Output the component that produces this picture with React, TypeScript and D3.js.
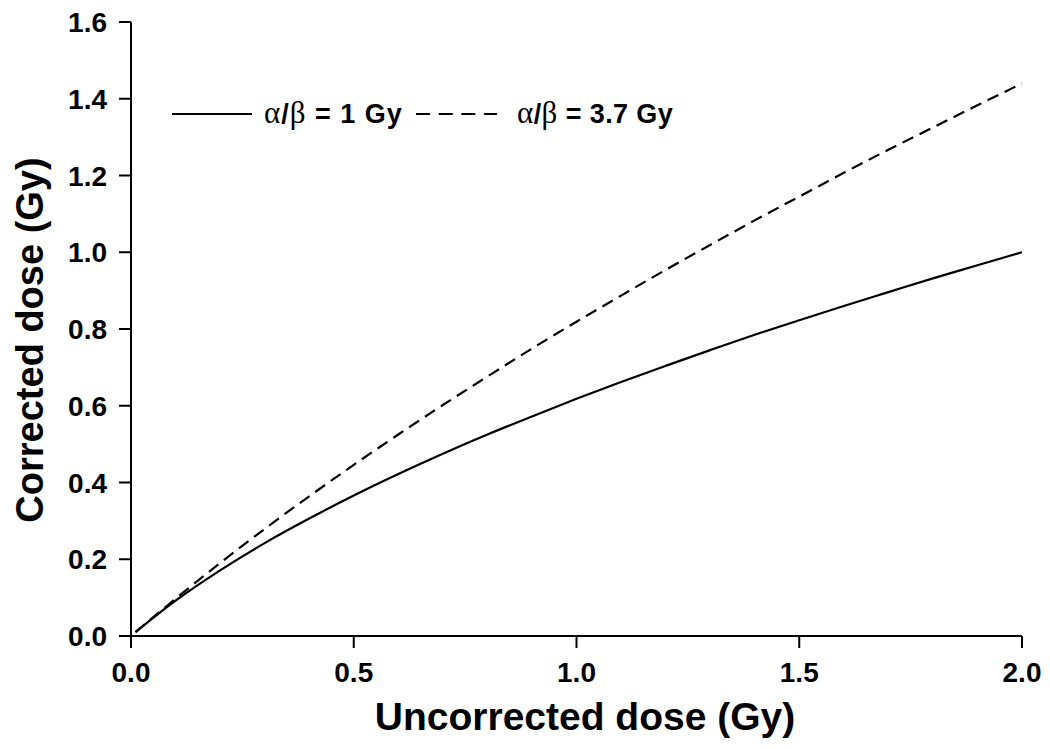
import React from "react";
import * as d3 from "d3";

const doses = [0.01, 0.1, 0.2, 0.3, 0.4, 0.5, 0.6, 0.7, 0.8, 0.9, 1.0, 1.1, 1.2, 1.3, 1.4, 1.5, 1.6, 1.7, 1.8, 1.9, 2.0];
const corrected1 = [0.01, 0.092, 0.171, 0.242, 0.306, 0.366, 0.422, 0.475, 0.525, 0.572, 0.618, 0.662, 0.704, 0.745, 0.785, 0.823, 0.860, 0.896, 0.932, 0.966, 1.0];
const corrected37 = [0.01, 0.097, 0.190, 0.279, 0.364, 0.446, 0.525, 0.602, 0.676, 0.749, 0.819, 0.887, 0.954, 1.019, 1.083, 1.145, 1.207, 1.267, 1.325, 1.383, 1.440];
const xTicks = [0, 0.5, 1.0, 1.5, 2.0];
const yTicks = [0, 0.2, 0.4, 0.6, 0.8, 1.0, 1.2, 1.4, 1.6];
const xTitle = "Uncorrected dose (Gy)";
const yTitle = "Corrected dose (Gy)";
const legendLabels = ["1 Gy", "3.7 Gy"];

const W = 1050;
const H = 749;
const SANS = "'Liberation Sans', Arial, Helvetica, sans-serif";
const SERIF = "'Liberation Serif', 'Times New Roman', serif";

export default function App() {
  const x = d3.scaleLinear().domain([0, 2]).range([131, 1022]);
  const y = d3.scaleLinear().domain([0, 1.6]).range([636, 22]);
  const line = d3
    .line<number>()
    .x((_, i) => x(doses[i]))
    .y((v) => y(v))
    .curve(d3.curveMonotoneX);

  const tick = 12;
  return (
    <svg width={W} height={H} style={{ position: "absolute", left: 0, top: 0, background: "#fff" }}>
      <rect x={0} y={0} width={W} height={H} fill="#fff" />
      {/* axes */}
      <line x1={x(0)} x2={x(0)} y1={y(1.6)} y2={y(0) + tick} stroke="#000" strokeWidth={2} />
      <line x1={x(0) - tick} x2={x(2)} y1={y(0)} y2={y(0)} stroke="#000" strokeWidth={2} />
      {yTicks.map((t) => (
        <g key={"y" + t}>
          <line x1={x(0) - tick} x2={x(0)} y1={y(t)} y2={y(t)} stroke="#000" strokeWidth={2} />
          <text
            x={x(0) - 24}
            y={y(t)}
            dy="0.36em"
            textAnchor="end"
            fontFamily={SANS}
            fontWeight="bold"
            fontSize={28}
          >
            {t.toFixed(1)}
          </text>
        </g>
      ))}
      {xTicks.map((t) => (
        <g key={"x" + t}>
          <line x1={x(t)} x2={x(t)} y1={y(0)} y2={y(0) + tick} stroke="#000" strokeWidth={2} />
          <text x={x(t)} y={682} textAnchor="middle" fontFamily={SANS} fontWeight="bold" fontSize={28}>
            {t.toFixed(1)}
          </text>
        </g>
      ))}
      {/* titles */}
      <text x={585} y={730} textAnchor="middle" fontFamily={SANS} fontWeight="bold" fontSize={39}>
        {xTitle}
      </text>
      <text
        transform={`translate(43, ${(y(0) + y(1.6)) / 2 + 11}) rotate(-90)`}
        textAnchor="middle"
        fontFamily={SANS}
        fontWeight="bold"
        fontSize={38}
      >
        {yTitle}
      </text>
      {/* curves */}
      <path d={line(corrected1) || ""} fill="none" stroke="#000" strokeWidth={2.2} />
      <path d={line(corrected37) || ""} fill="none" stroke="#000" strokeWidth={2.2} strokeDasharray="12,7" />
      {/* legend */}
      <line x1={172} x2={252} y1={114} y2={114} stroke="#000" strokeWidth={2.2} />
      <text x={264} y={123} fontSize={27} letterSpacing={1}>
        <tspan fontFamily={SERIF} fontSize={31}>α</tspan>
        <tspan fontFamily={SANS} fontWeight="bold">/</tspan>
        <tspan fontFamily={SERIF} fontSize={31}>β</tspan>
        <tspan fontFamily={SANS} fontWeight="bold">{" = " + legendLabels[0]}</tspan>
      </text>
      <line x1={416} x2={497} y1={114} y2={114} stroke="#000" strokeWidth={2.2} strokeDasharray="14,8.7" />
      <text x={517} y={123} fontSize={27} letterSpacing={0.4}>
        <tspan fontFamily={SERIF} fontSize={31}>α</tspan>
        <tspan fontFamily={SANS} fontWeight="bold">/</tspan>
        <tspan fontFamily={SERIF} fontSize={31}>β</tspan>
        <tspan fontFamily={SANS} fontWeight="bold">{" = " + legendLabels[1]}</tspan>
      </text>
    </svg>
  );
}
